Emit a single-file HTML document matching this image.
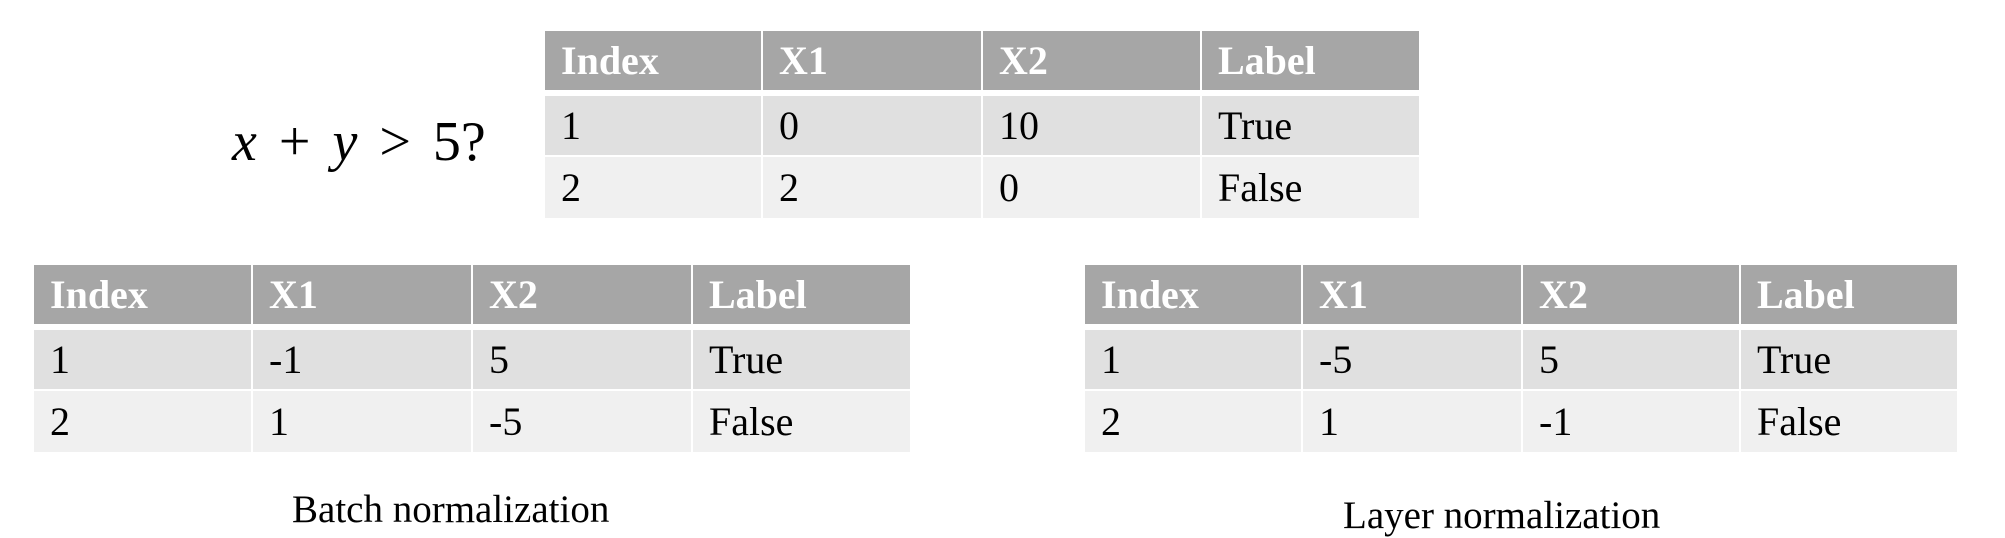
<!DOCTYPE html>
<html><head><style>
body{margin:0;width:2005px;height:530px;background:#fff;position:relative;overflow:hidden;font-family:"Liberation Serif",serif}
.c{position:absolute;box-sizing:border-box;padding-left:16px;font-size:40px;line-height:1}
.h{background:#a6a6a6;color:#fff;font-weight:bold}
.r1{background:#e0e0e0;color:#000}
.r2{background:#f0f0f0;color:#000}
.lbl{position:absolute;font-size:39px;color:#000;white-space:nowrap}
</style></head><body>
<div class="lbl" style="left:232px;top:110px;font-size:56px;word-spacing:8px"><i>x</i> + <i>y</i> &gt; 5?</div>
<div class="lbl" style="left:292px;top:487px">Batch normalization</div>
<div class="lbl" style="left:1343px;top:493px">Layer normalization</div>
<div id="tables"></div>
<script>
function table(cols,rows,data){
  var s='';
  for(var r=0;r<3;r++){
    var cls=['h','r1','r2'][r];
    for(var c=0;c<4;c++){
      var x=cols[c],w=cols[c+1]-cols[c]-(c<3?2:0);
      var y=rows[r][0],h=rows[r][1]-rows[r][0];
      s+='<div class="c '+cls+'" style="left:'+x+'px;top:'+y+'px;width:'+w+'px;height:'+h+'px;padding-top:'+(h-40)/2+'px">'+data[r][c]+'</div>';
    }
  }
  return s;
}
var H=['Index','X1','X2','Label'];
var out='';
out+=table([545,763,983,1202,1419],[[31,90],[96,155],[157,218]],[H,['1','0','10','True'],['2','2','0','False']]);
out+=table([34,253,473,693,910],[[265,324],[330,389],[391,452]],[H,['1','-1','5','True'],['2','1','-5','False']]);
out+=table([1085,1303,1523,1741,1957],[[265,324],[330,389],[391,452]],[H,['1','-5','5','True'],['2','1','-1','False']]);
document.getElementById('tables').innerHTML=out;
</script>
</body></html>
